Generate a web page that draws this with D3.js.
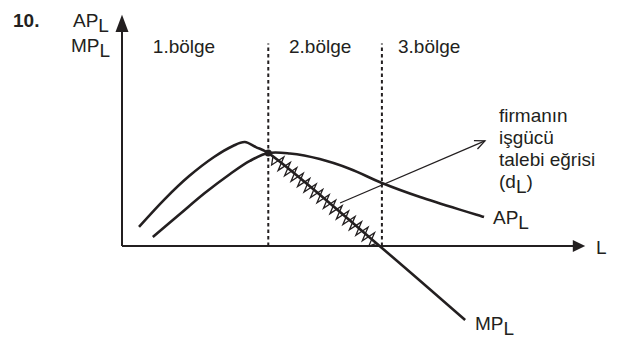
<!DOCTYPE html>
<html>
  <head>
    <meta charset="UTF-8">
    <script src="https://d3js.org/d3.v7.min.js"></script>
    <title>AP MP</title>
    <style>
      body { margin: 0; background: #fff; }
      svg text { font-family: "Liberation Sans", Arial, Helvetica, sans-serif; fill: #231f20; }
    </style>
  </head>
  <body>
    <svg id="f1" height="339" width="623"></svg>
    <script>
    // curve points (L, product)
    var mpPoints = [[0.37,0.83],[0.93,2.04],[1.46,3.04],[2.0,3.87],[2.41,4.35],[2.67,4.52],
                    [2.91,4.30],[3.18,4.04],[5.6,0],[7.46,-3.22]];
    var apPoints = [[0.67,0.39],[1.26,1.39],[1.80,2.30],[2.35,3.13],[2.78,3.70],[3.18,4.04],
                    [3.65,4.02],[4.3,3.78],[4.96,3.35],[5.65,2.74],[6.48,2.13],[7.87,1.26]];
    var regionBounds = [3.18, 5.65];          // dashed lines
    var regionLabels = ["1.bölge", "2.bölge", "3.bölge"];
    var regionLabelX = [0.67, 3.63, 6.0];
    var demandSegment = [[3.18,4.04],[5.6,0]]; // hatched part of MP
    var dLArrow = [[4.74,1.87],[7.89,4.57]];
    var annotLines = ["firmanın", "işgücü", "talebi eğrisi"];

    var svg = d3.select("#f1");
    var ink = "#231f20";

    var x = d3.scaleLinear().domain([0, 10]).range([122, 582]);
    var y = d3.scaleLinear().domain([0, 10]).range([246, 16]);

    var line = d3.line()
      .x(function(d){ return x(d[0]); })
      .y(function(d){ return y(d[1]); })
      .curve(d3.curveCatmullRom.alpha(0.5));

    // axes
    svg.append("line")
      .attr("x1", x(0)).attr("y1", y(0))
      .attr("x2", x(0)).attr("y2", y(9.4))
      .attr("stroke", ink).attr("stroke-width", 2);
    svg.append("line")
      .attr("x1", x(0)).attr("y1", y(0))
      .attr("x2", x(9.85)).attr("y2", y(0))
      .attr("stroke", ink).attr("stroke-width", 2);
    svg.append("path")
      .attr("d", "M" + x(0) + "," + (y(10.05)) + "L" + (x(0) - 6.5) + "," + (y(9.3)) + "L" + (x(0) + 6.5) + "," + y(9.3) + "Z")
      .attr("fill", ink);
    svg.append("path")
      .attr("d", "M" + (x(10.07)) + "," + y(0) + "L" + (x(9.8)) + "," + (y(0) - 6) + "L" + x(9.8) + "," + (y(0) + 6) + "Z")
      .attr("fill", ink);

    // dashed region lines
    svg.selectAll(".region")
      .data(regionBounds)
      .enter().append("line")
      .attr("x1", function(d){ return x(d); }).attr("x2", function(d){ return x(d); })
      .attr("y1", y(0)).attr("y2", y(8.8))
      .attr("stroke", ink).attr("stroke-width", 2)
      .attr("stroke-dasharray", "3.5,3");

    svg.selectAll(".rlabel")
      .data(regionLabels)
      .enter().append("text")
      .attr("x", function(d, i){ return x(regionLabelX[i]); })
      .attr("y", 53)
      .attr("font-size", 19)
      .text(function(d){ return d; });

    // zigzag hatch along the demand part of MP
    var p0 = [x(demandSegment[0][0]), y(demandSegment[0][1])];
    var p1 = [x(demandSegment[1][0]), y(demandSegment[1][1])];
    var dx = p1[0] - p0[0], dy = p1[1] - p0[1];
    var len = Math.sqrt(dx*dx + dy*dy);
    var ux = dx/len, uy = dy/len, nx = -uy, ny = ux;
    var teeth = 32, amp = 7;
    var zz = [];
    for (var i = 0; i <= teeth; i++) {
      var t = 6 + (len - 10) * i / teeth;
      var s = (i % 2 == 0) ? -amp : amp;
      if (i == 0 || i == teeth) s = 0;
      zz.push([p0[0] + ux*t + nx*s, p0[1] + uy*t + ny*s]);
    }
    svg.append("path")
      .attr("d", d3.line()(zz))
      .attr("fill", "none").attr("stroke", ink).attr("stroke-width", 1.3)
      .attr("stroke-linejoin", "miter");

    // curves
    svg.append("path").attr("d", line(mpPoints))
      .attr("fill", "none").attr("stroke", ink).attr("stroke-width", 2.6);
    svg.append("path").attr("d", line(apPoints))
      .attr("fill", "none").attr("stroke", ink).attr("stroke-width", 2.6);

    svg.append("circle")
      .attr("cx", x(3.18)).attr("cy", y(4.04)).attr("r", 3.5).attr("fill", ink);

    // d_L pointer arrow
    var a0 = [x(dLArrow[0][0]), y(dLArrow[0][1])];
    var a1 = [x(dLArrow[1][0]), y(dLArrow[1][1])];
    svg.append("line")
      .attr("x1", a0[0]).attr("y1", a0[1]).attr("x2", a1[0]).attr("y2", a1[1])
      .attr("stroke", ink).attr("stroke-width", 1.3);
    var ang = Math.atan2(a1[1] - a0[1], a1[0] - a0[0]);
    var hl = 11, hw = 0.42;
    svg.append("path")
      .attr("d", "M" + (a1[0] - hl*Math.cos(ang - hw)) + "," + (a1[1] - hl*Math.sin(ang - hw)) +
                 "L" + a1[0] + "," + a1[1] +
                 "L" + (a1[0] - hl*Math.cos(ang + hw)) + "," + (a1[1] - hl*Math.sin(ang + hw)))
      .attr("fill", "none").attr("stroke", ink).attr("stroke-width", 1.3);

    // text
    svg.append("text").attr("x", 13).attr("y", 27).attr("font-size", 19)
      .attr("font-weight", "bold").text("10.");

    function sub(xp, yp, main, s) {
      var t = svg.append("text").attr("x", xp).attr("y", yp).attr("font-size", 19);
      t.append("tspan").text(main);
      t.append("tspan").attr("dy", 5).text(s);
      return t;
    }
    sub(73, 27, "AP", "L");
    sub(71, 52, "MP", "L");
    sub(493, 224, "AP", "L");
    sub(475, 330, "MP", "L");

    svg.append("text").attr("x", 596).attr("y", 254).attr("font-size", 19).text("L");

    svg.selectAll(".annot")
      .data(annotLines)
      .enter().append("text")
      .attr("x", 499)
      .attr("y", function(d, i){ return 122 + i*22; })
      .attr("font-size", 19)
      .text(function(d){ return d; });
    var dl = svg.append("text").attr("x", 499).attr("y", 188).attr("font-size", 19);
    dl.append("tspan").text("(d");
    dl.append("tspan").attr("dy", 5).text("L");
    dl.append("tspan").attr("dy", -5).text(")");
    </script>
  </body>
</html>
